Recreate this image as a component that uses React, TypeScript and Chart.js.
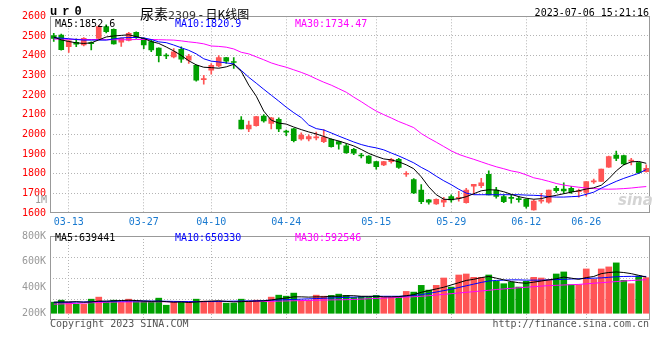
import React, { useEffect, useRef } from 'react';
import { Chart, registerables } from 'chart.js';

Chart.register(...registerables);

// ---------- data ----------
const dates = [
  '03-09','03-10','03-13','03-14','03-15','03-16','03-17','03-20','03-21','03-22','03-23','03-24','03-27','03-28','03-29','03-30','03-31',
  '04-03','04-04','04-06','04-07','04-10','04-11','04-12','04-13','04-14','04-17','04-18','04-19','04-20','04-21','04-24','04-25','04-26','04-27','04-28',
  '05-04','05-05','05-08','05-09','05-10','05-11','05-12','05-15','05-16','05-17','05-18','05-19','05-22','05-23','05-24','05-25','05-26','05-29','05-30','05-31',
  '06-01','06-02','06-05','06-06','06-07','06-08','06-09','06-12','06-13','06-14','06-15','06-16','06-19','06-20','06-21','06-26','06-27','06-28','06-29','06-30',
  '07-03','07-04','07-05','07-06',
];

const opens = [
  2502,2505,2446,2468,2454,2466,2488,2548,2534,2468,2477,2519,2488,2472,2438,2402,2393,2432,2377,2351,
  2278,2326,2348,2390,2370,2072,2027,2044,2093,2056,2076,2016,2028,1976,1976,1982,1963,1975,1963,1941,
  1924,1894,1890,1861,1844,1861,1873,1797,1770,1717,1667,1646,1655,1684,1674,1653,1737,1739,1797,1717,
  1684,1678,1672,1670,1616,1660,1655,1726,1721,1726,1708,1704,1758,1760,1833,1895,1892,1864,1856,1810,
];
const highs = [
  2514,2510,2477,2485,2492,2470,2553,2556,2536,2490,2518,2521,2490,2480,2440,2410,2436,2445,2407,2353,
  2300,2360,2400,2392,2390,2090,2067,2092,2100,2086,2084,2022,2031,2008,1997,2012,2024,1977,1965,1952,
  1929,1903,1892,1863,1863,1878,1878,1810,1775,1744,1670,1672,1680,1692,1710,1725,1746,1776,1814,1731,
  1692,1692,1685,1672,1667,1700,1717,1735,1754,1735,1721,1760,1772,1823,1890,1915,1895,1878,1856,1845,
];
const lows = [
  2472,2428,2416,2446,2450,2429,2485,2515,2458,2447,2475,2488,2436,2420,2368,2385,2388,2366,2360,2270,
  2255,2306,2343,2360,2335,2027,2014,2042,2062,2027,2014,1993,1961,1970,1967,1972,1957,1935,1925,1903,
  1896,1880,1851,1823,1840,1853,1827,1786,1698,1648,1645,1643,1632,1655,1660,1650,1695,1729,1692,1676,
  1653,1650,1655,1625,1614,1650,1650,1705,1700,1700,1680,1685,1750,1760,1832,1866,1845,1845,1800,1808,
];
const closes = [
  2488,2430,2475,2458,2488,2461,2548,2522,2460,2488,2514,2493,2454,2429,2400,2398,2419,2382,2398,2275,
  2281,2351,2390,2372,2365,2027,2047,2090,2068,2084,2027,2011,1968,1996,1988,1986,1986,1937,1950,1907,
  1904,1890,1853,1836,1861,1873,1832,1801,1702,1658,1655,1670,1667,1667,1678,1717,1746,1754,1692,1684,
  1658,1674,1668,1633,1660,1664,1717,1714,1712,1709,1712,1760,1762,1823,1887,1878,1850,1868,1805,1827,
];

const ma5 = [
  2495,2480,2472,2465,2462,2465,2480,2495,2500,2503,2506,2497,2487,2472,2462,2444,2424,2401,2374,2353,
  2341,2339,2336,2343,2356,2320,2250,2194,2118,2072,2057,2052,2037,2024,2012,2002,1989,1976,1966,1954,
  1941,1923,1903,1888,1875,1870,1860,1845,1825,1784,1733,1693,1670,1668,1673,1683,1698,1713,1718,1717,
  1708,1695,1683,1675,1670,1673,1683,1690,1698,1706,1713,1722,1728,1741,1774,1814,1845,1860,1862,1852.6,
];
const ma10 = [
  2491,2489,2486,2482,2479,2479,2479,2479,2485,2490,2492,2492,2490,2482,2470,2466,2454,2440,2427,2409,
  2384,2372,2368,2363,2358,2325,2290,2260,2229,2199,2169,2138,2110,2085,2047,2029,2022,2007,1991,1976,
  1961,1948,1938,1931,1921,1905,1890,1873,1855,1832,1812,1787,1764,1744,1721,1701,1693,1693,1693,1693,
  1693,1693,1693,1691,1690,1688,1683,1681,1681,1683,1685,1695,1706,1726,1744,1761,1776,1789,1802,1820.9,
];
const ma30 = [
  2484,2484,2483,2483,2482,2482,2482,2481,2481,2481,2481,2482,2482,2482,2481,2480,2479,2475,2470,2466,
  2460,2449,2447,2443,2434,2417,2409,2394,2379,2363,2351,2341,2328,2315,2300,2282,2265,2250,2232,2214,
  2189,2166,2141,2118,2100,2083,2065,2050,2034,2004,1981,1960,1938,1916,1898,1885,1873,1860,1847,1835,
  1825,1814,1807,1794,1779,1771,1761,1750,1742,1736,1731,1727,1724,1722,1721,1722,1724,1727,1731,1734.47,
];

const volumes = [
  196000,231000,196000,160000,160000,249000,285000,196000,231000,196000,249000,214000,214000,196000,267000,142000,196000,196000,196000,249000,
  214000,214000,214000,178000,178000,249000,214000,231000,214000,285000,320000,302000,356000,231000,231000,320000,302000,315000,338000,315000,
  279000,297000,279000,315000,279000,279000,297000,386000,374000,493000,409000,493000,623000,463000,676000,694000,635000,635000,676000,564000,
  522000,552000,463000,564000,635000,623000,593000,694000,730000,504000,504000,783000,600000,783000,819000,890000,582000,522000,659000,629000,
];
const volMa5 = [
  196000,200000,200000,205000,195000,200000,215000,215000,220000,225000,230000,225000,215000,210000,215000,205000,195000,200000,190000,200000,
  210000,215000,220000,210000,200000,205000,210000,215000,220000,235000,255000,270000,290000,290000,285000,290000,290000,300000,300000,310000,
  310000,300000,300000,300000,290000,290000,295000,310000,330000,370000,400000,430000,460000,500000,540000,580000,600000,630000,650000,620000,
  590000,560000,540000,530000,550000,570000,590000,610000,640000,620000,600000,630000,650000,700000,720000,730000,720000,700000,670000,639441,
];
const volMa10 = [
  190000,192000,195000,198000,200000,205000,208000,210000,212000,214000,216000,218000,218000,216000,214000,212000,210000,208000,206000,205000,
  206000,208000,210000,212000,214000,216000,218000,220000,225000,230000,235000,240000,245000,250000,255000,260000,265000,270000,275000,280000,
  285000,290000,295000,300000,300000,300000,300000,305000,315000,330000,350000,375000,400000,425000,455000,485000,515000,545000,570000,580000,
  585000,590000,590000,585000,585000,585000,590000,595000,600000,605000,610000,615000,620000,625000,635000,645000,650000,652000,652000,650330,
];
const volMa30 = [
  160000,165000,170000,175000,180000,185000,190000,195000,198000,200000,200000,201000,202000,202000,203000,203000,204000,204000,205000,205000,
  206000,206000,207000,207000,208000,208000,209000,209000,210000,210000,215000,218000,221000,224000,227000,230000,233000,236000,238000,240000,
  245000,250000,256000,262000,268000,274000,280000,286000,292000,300000,310000,322000,334000,346000,358000,370000,382000,394000,406000,420000,
  430000,440000,450000,460000,470000,480000,488000,494000,500000,505000,510000,520000,530000,540000,550000,560000,570000,578000,586000,592546,
];

const dateTicks = ['03-13', '03-27', '04-10', '04-24', '05-15', '05-29', '06-12', '06-26'];
const volTickValues = [200000, 400000, 600000, 800000];
const volTickLabels = ['200K', '400K', '600K', '800K'];

const mainLegend = ['MA5:1852.6', 'MA10:1820.9', 'MA30:1734.47'];
const volLegend = ['MA5:639441', 'MA10:650330', 'MA30:592546'];

// ---------- styles ----------
const RED = '#ff5555';
const GREEN = '#00a000';
const GRID = '#b4b4b4';
const FRAME = '#999999';
const MONO = '"DejaVu Sans Mono", "Liberation Mono", monospace';
const VOL_MIN = -119000;
const VOL_MAX = 1365000;
const LAB_MIN = 147600;
const LAB_MAX = 800000;

const tickSet = new Set(dateTicks);
const colors = dates.map((_, i) => (closes[i] >= opens[i] ? RED : GREEN));

const framePlugin = {
  id: 'frame',
  afterDatasetsDraw(chart: any) {
    const { ctx, chartArea: a } = chart;
    ctx.save();
    ctx.strokeStyle = FRAME;
    ctx.lineWidth = 1;
    ctx.strokeRect(Math.round(a.left) + 0.5, Math.round(a.top) + 0.5, Math.round(a.right - a.left) - 1, Math.round(a.bottom - a.top) - 1);
    ctx.restore();
  },
};

function fitArea(chart: any, t: { left: number; right: number; top: number; bottom: number }) {
  const p = { left: 0, right: 0, top: 0, bottom: 0 };
  for (let k = 0; k < 4; k++) {
    const a = chart.chartArea;
    p.top += t.top - a.top;
    p.bottom += a.bottom - t.bottom;
    p.left += t.left - a.left;
    p.right += a.right - t.right;
    chart.options.layout.padding = { ...p };
    chart.update();
  }
}

const xGridColor = (ctx: any) => (tickSet.has(dates[ctx.index]) ? GRID : 'rgba(0,0,0,0)');

function lineDs(data: number[], color: string, yAxisID = 'y') {
  return {
    type: 'line' as const,
    data,
    borderColor: color,
    borderWidth: 1,
    pointRadius: 0,
    tension: 0,
    fill: false,
    yAxisID,
    order: 0,
  };
}

const Txt = ({ x, cy, children, color = '#000', size = 10, right = false, style = {} }: any) => (
  <div
    style={{
      position: 'absolute',
      top: cy - 7,
      ...(right ? { right: 660 - x } : { left: x }),
      height: 14,
      lineHeight: '14px',
      fontSize: size,
      fontFamily: MONO,
      color,
      whiteSpace: 'nowrap',
      ...style,
    }}
  >
    {children}
  </div>
);

export default function App() {
  const mainRef = useRef<HTMLCanvasElement>(null);
  const volRef = useRef<HTMLCanvasElement>(null);

  useEffect(() => {
    document.body.style.margin = '0';
    const main = new Chart(mainRef.current!, {
      type: 'bar',
      data: {
        labels: dates,
        datasets: [
          lineDs(ma5, '#000000'),
          lineDs(ma10, '#0000ff'),
          lineDs(ma30, '#ff00ff'),
          {
            type: 'bar',
            data: lows.map((l, i) => [l, highs[i]]),
            backgroundColor: colors,
            barThickness: 1,
            grouped: false,
            order: 2,
          } as any,
          {
            type: 'bar',
            data: opens.map((o, i) => [Math.min(o, closes[i]), Math.max(o, closes[i])]),
            backgroundColor: colors,
            barThickness: 5,
            minBarLength: 1,
            grouped: false,
            order: 1,
          } as any,
        ],
      },
      options: {
        animation: false,
        responsive: false,
        maintainAspectRatio: false,
        events: [],
        layout: { padding: 0 },
        plugins: { legend: { display: false }, tooltip: { enabled: false } },
        scales: {
          x: {
            type: 'category',
            offset: true,
            grid: { offset: false, color: xGridColor, drawTicks: false, lineWidth: 1 },
            border: { display: false, dash: [1, 2] },
            ticks: {
              autoSkip: false,
              maxRotation: 0,
              color: '#1a7ad0',
              font: { family: MONO, size: 10 },
              padding: 3,
              callback: (_v: any, i: number) => (tickSet.has(dates[i]) ? dates[i] : ''),
            },
          },
          y: {
            min: 1600,
            max: 2600,
            ticks: {
              stepSize: 100,
              color: '#ff0000',
              font: { family: MONO, size: 10 },
              padding: 4,
              callback: (v: any) => String(v),
            },
            grid: {
              drawTicks: false,
              color: (ctx: any) => (ctx.tick && (ctx.tick.value === 1600 || ctx.tick.value === 2600) ? 'rgba(0,0,0,0)' : GRID),
            },
            border: { display: false, dash: [1, 2] },
            afterFit: (s: any) => {
              s.width = 50;
            },
          },
        },
      } as any,
      plugins: [framePlugin],
    });
    fitArea(main, { left: 50, right: 650, top: 16.3, bottom: 213 });

    const vol = new Chart(volRef.current!, {
      type: 'bar',
      data: {
        labels: dates,
        datasets: [
          lineDs(volMa5, '#000000'),
          lineDs(volMa10, '#0000ff'),
          lineDs(volMa30, '#ff00ff'),
          {
            type: 'bar',
            data: volumes,
            backgroundColor: colors,
            barThickness: 6,
            grouped: false,
            order: 1,
            yAxisID: 'y',
          } as any,
        ],
      },
      options: {
        animation: false,
        responsive: false,
        maintainAspectRatio: false,
        events: [],
        layout: { padding: 0 },
        plugins: { legend: { display: false }, tooltip: { enabled: false } },
        scales: {
          x: {
            type: 'category',
            offset: true,
            grid: { offset: false, color: xGridColor, drawTicks: false, lineWidth: 1 },
            border: { display: false, dash: [1, 2] },
            ticks: { display: false },
          },
          y: {
            position: 'left',
            min: VOL_MIN,
            max: VOL_MAX,
            ticks: { display: false },
            afterBuildTicks: (axis: any) => {
              axis.ticks = [0, 1, 2, 3, 4].map((k) => ({ value: VOL_MIN + ((VOL_MAX - VOL_MIN) * k) / 4 }));
            },
            grid: {
              drawTicks: false,
              color: (ctx: any) => (ctx.index === 0 || ctx.index === 4 ? 'rgba(0,0,0,0)' : GRID),
            },
            border: { display: false, dash: [1, 2] },
            afterFit: (s: any) => {
              s.width = 0;
            },
          },
          yLab: {
            position: 'left',
            min: LAB_MIN,
            max: LAB_MAX,
            afterBuildTicks: (axis: any) => {
              axis.ticks = volTickValues.map((v) => ({ value: v }));
            },
            ticks: {
              autoSkip: false,
              color: '#999999',
              font: { family: MONO, size: 10 },
              padding: 4,
              callback: (v: any) => volTickLabels[volTickValues.indexOf(v)] ?? '',
            },
            grid: { display: false, drawTicks: false },
            border: { display: false },
            afterFit: (s: any) => {
              s.width = 50;
            },
          },
        },
      } as any,
      plugins: [framePlugin],
    });
    fitArea(vol, { left: 50, right: 650, top: 8.3, bottom: 91.7 });

    return () => {
      main.destroy();
      vol.destroy();
    };
  }, []);

  return (
    <div style={{ position: 'absolute', left: 0, top: 0, width: 660, height: 360, background: '#fff', overflow: 'hidden' }}>
      <canvas ref={mainRef} width={660} height={232} style={{ position: 'absolute', left: 0, top: 0, width: 660, height: 232 }} />
      <canvas ref={volRef} width={660} height={104} style={{ position: 'absolute', left: 0, top: 226, width: 660, height: 104 }} />

      <Txt x={50} cy={12} size={12} style={{ fontWeight: 'bold', letterSpacing: '5px', fontFamily: '"Liberation Mono", monospace' }}>ur0</Txt>
      <div style={{ position: 'absolute', left: 140, top: 3, height: 18, lineHeight: '18px', whiteSpace: 'nowrap', fontFamily: '"Noto Sans CJK SC", sans-serif', color: '#000' }}>
        <span style={{ fontSize: 14 }}>尿素</span>
        <span style={{ fontSize: 11, fontFamily: '"DejaVu Sans", sans-serif', color: '#333' }}>2309</span>
        <span style={{ fontSize: 12 }}> - 日K线图</span>
      </div>
      <Txt x={649} cy={12.7} right>2023-07-06 15:21:16</Txt>

      <Txt x={55} cy={23.5} color="#000000">{mainLegend[0]}</Txt>
      <Txt x={175} cy={23.5} color="#0000ff">{mainLegend[1]}</Txt>
      <Txt x={295} cy={23.5} color="#ff00ff">{mainLegend[2]}</Txt>

      <Txt x={47} cy={200} right color="#999999">1M</Txt>

      <div style={{ position: 'absolute', left: 618, top: 192, fontSize: 15, fontWeight: 'bold', fontStyle: 'italic', fontFamily: '"DejaVu Sans", sans-serif', color: '#d4d4d4', lineHeight: '16px' }}>sina</div>

      <Txt x={55} cy={238.3} color="#000000">{volLegend[0]}</Txt>
      <Txt x={175} cy={238.3} color="#0000ff">{volLegend[1]}</Txt>
      <Txt x={295} cy={238.3} color="#ff00ff">{volLegend[2]}</Txt>

      <Txt x={50} cy={323.5} color="#555555">Copyright 2023 SINA.COM</Txt>
      <Txt x={649} cy={324} right color="#555555">http://finance.sina.com.cn</Txt>
    </div>
  );
}
